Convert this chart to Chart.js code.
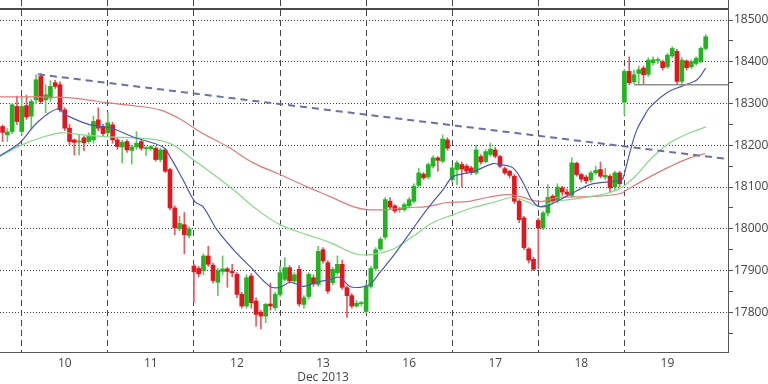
<!DOCTYPE html>
<html><head><meta charset="utf-8">
<script src="https://cdn.jsdelivr.net/npm/chart.js@4.4.0/dist/chart.umd.min.js"></script>
<style>html,body{margin:0;padding:0;background:#fff}#c{display:block}</style>
</head><body>
<canvas id="c" width="768" height="384"></canvas>
<script>
// ---- data ----
const dayLabels = ['10','11','12','13','16','17','18','19'];
const monthLabel = 'Dec 2013';
const firstCandleOfDay = [4,22,40,58,76,94,112,130];
const yTicks = [17750,17800,17850,17900,17950,18000,18050,18100,18150,18200,18250,18300,18350,18400,18450,18500];

const openP = [18245,18225,18233,18293,18233,18295,18270,18309,18365,18309,18313,18350,18345,18285,18241,18213,18208,18218,18209,18213,
18261,18245,18230,18249,18213,18196,18209,18188,18196,18209,18192,18192,18193,18166,18189,18142,18050,18000,18010,17984,
17911,17905,17900,17935,17913,17872,17898,17904,17898,17891,17843,17815,17887,17827,17800,17791,17820,17811,17843,17879,
17907,17875,17903,17819,17838,17883,17867,17950,17919,17871,17895,17915,17859,17840,17815,17821,17802,17862,17905,17952,
17980,18066,18055,18046,18046,18055,18066,18104,18131,18124,18150,18170,18162,18213,18118,18142,18154,18150,18146,18134,
18173,18161,18178,18189,18173,18144,18138,18126,18066,18026,17952,17927,18020,18002,18038,18078,18068,18098,18088,18080,
18157,18130,18124,18117,18134,18142,18124,18126,18100,18134,18303,18377,18352,18372,18385,18370,18398,18403,18400,18388,
18414,18425,18353,18402,18388,18396,18402,18432];
const highP = [18249,18240,18300,18318,18317,18320,18310,18369,18372,18345,18355,18356,18352,18290,18250,18215,18225,18222,18230,18270,
18290,18250,18278,18255,18218,18212,18213,18200,18233,18212,18197,18200,18197,18193,18192,18145,18055,18030,18039,18005,
17915,17910,17940,17958,17918,17905,17935,17908,17915,17895,17848,17890,17893,17835,17805,17822,17870,17848,17910,17931,
17912,17895,17912,17840,17895,17890,17958,17955,17924,17908,17935,17925,17862,17845,17828,17826,17868,17910,17955,17980,
18075,18075,18058,18052,18062,18075,18108,18145,18135,18158,18175,18173,18225,18218,18150,18163,18160,18155,18150,18200,
18178,18190,18205,18195,18176,18148,18140,18130,18070,18030,17955,17932,18025,18042,18106,18082,18108,18102,18095,18170,
18160,18133,18128,18138,18150,18160,18145,18130,18138,18138,18382,18412,18380,18390,18390,18410,18412,18410,18404,18420,
18436,18430,18410,18405,18404,18412,18436,18465];
const lowP = [18209,18209,18228,18250,18225,18262,18240,18300,18300,18278,18305,18336,18280,18235,18200,18177,18177,18187,18205,18205,
18235,18222,18225,18205,18190,18158,18183,18155,18190,18188,18176,18188,18162,18160,18135,18045,17986,17995,17940,17978,
17824,17885,17890,17910,17870,17840,17890,17860,17885,17835,17810,17810,17810,17767,17760,17775,17805,17805,17838,17875,
17870,17870,17815,17810,17832,17862,17862,17918,17845,17865,17890,17855,17788,17810,17812,17815,17798,17858,17900,17948,
17975,18048,18038,18040,18042,18050,18062,18100,18118,18120,18145,18138,18158,18188,18112,18105,18100,18132,18130,18130,
18155,18158,18174,18170,18146,18130,18122,18060,18015,17950,17918,17900,17905,17998,18030,18060,18062,18080,18078,18075,
18126,18112,18108,18112,18130,18122,18118,18088,18092,18100,18273,18345,18348,18345,18345,18365,18392,18396,18380,18384,
18410,18345,18345,18380,18384,18392,18398,18428];
const closeP = [18231,18232,18297,18257,18293,18268,18305,18357,18305,18321,18341,18341,18285,18241,18209,18207,18210,18206,18221,18257,
18241,18228,18254,18213,18197,18207,18189,18196,18205,18193,18194,18197,18166,18189,18138,18050,18002,18013,17986,18000,
17897,17892,17935,17915,17876,17899,17904,17898,17895,17843,17815,17883,17823,17795,17791,17819,17815,17843,17895,17907,
17875,17890,17820,17835,17891,17868,17946,17923,17851,17903,17915,17860,17840,17815,17822,17823,17863,17905,17950,17975,
18070,18052,18043,18048,18058,18070,18102,18134,18122,18154,18170,18164,18215,18193,18146,18158,18143,18138,18135,18189,
18160,18185,18191,18174,18150,18134,18128,18066,18022,17955,17925,17903,18002,18038,18075,18066,18100,18088,18083,18158,
18130,18119,18115,18134,18140,18126,18128,18098,18134,18108,18377,18350,18369,18381,18369,18404,18405,18405,18386,18416,
18432,18353,18404,18386,18400,18408,18432,18460];

const blueX = [-0.54,3.6,7.2,11.4,13.5,18.3,22.5,27.3,33.5,35,37.7,40.2,41.9,44.8,48.2,51.7,55.9,58,60.1,62.8,65.7,68.5,70.5,72.6,74.7,76.8,78.9,81.6,85.2,88.7,92.1,94.2,98.4,102.5,104,106.7,108.8,110.9,112.4,114.5,118.6,122.8,127,129.5,130.1,131.4,132.6,134.3,135.4,138.9,142.3,145.2,147];
const blueY = [18175,18206,18254,18287,18271,18249,18242,18220,18196,18173,18118,18065,18053,17998,17951,17910,17862,17860,17872,17862,17872,17879,17884,17862,17860,17867,17896,17934,17991,18046,18094,18125,18137,18156,18154,18146,18111,18065,18053,18058,18082,18106,18113,18118,18137,18194,18237,18273,18292,18326,18343,18357,18385];
const greenX = [-0.54,4,8.45,12.4,16.8,22.5,27.3,32.3,35.6,39.8,42.7,45.5,48.2,53.2,58,63.6,68.5,74.1,77.4,81.6,85.8,90,94.2,98.4,102.5,106.7,109.6,112.4,115.1,118.6,122.8,127,129.7,132.6,135.4,139.5,143.7,147.1];
const greenY = [18173,18201,18220,18230,18225,18220,18218,18213,18201,18166,18142,18118,18094,18046,18010,17986,17967,17939,17939,17951,17982,18015,18034,18051,18063,18075,18065,18053,18065,18070,18077,18087,18101,18130,18166,18206,18230,18244];
const redX = [-0.54,6.36,13.5,17.6,21.8,27.3,32.9,37.1,41.3,47,52.4,58,63.6,68.5,73.3,76.2,80.4,84.6,88.7,92.9,97.1,101.3,105.5,108.2,112.4,115.9,122.8,129.1,130.6,135.4,139.5,143.7,146.9];
const redY = [18316,18316,18314,18309,18302,18295,18285,18263,18232,18197,18158,18130,18101,18077,18053,18046,18046,18051,18053,18063,18065,18075,18082,18077,18065,18075,18077,18084,18094,18125,18149,18170,18180];
const trendX = [7.4,151.66];
const trendY = [18370,18167];
const supportX = [132,151.66];
const supportY = [18345,18345];
const frameTopValue = 18526;

// ---- build ----
const idx = openP.map((_, i) => i);
const up = idx.map(i => closeP[i] >= openP[i]);
const bodyCol = up.map(u => u ? '#20b420' : '#e3151d');
const wickCol = up.map(u => u ? '#62c862' : '#e45a60');
const dayCenters = firstCandleOfDay.map(v => v + 9);
const pts = (xs, ys) => xs.map((x, i) => ({x, y: ys[i]}));

Chart.defaults.font.family = "'Open Sans', 'Liberation Sans', sans-serif";
Chart.defaults.font.size = 12;

const frameTop = {
  id: 'frameTop',
  afterDraw(chart) {
    const {ctx, chartArea, scales} = chart;
    const py = Math.round(scales.y.getPixelForValue(frameTopValue));
    ctx.save();
    ctx.strokeStyle = '#4a4a4a';
    ctx.lineWidth = 2;
    ctx.beginPath();
    ctx.moveTo(chartArea.left, py);
    ctx.lineTo(chartArea.right, py);
    ctx.stroke();
    ctx.restore();
  }
};

new Chart(document.getElementById('c'), {
  type: 'bar',
  data: {
    datasets: [
      {type:'line', data: pts(trendX, trendY), borderColor:'#6b70a6', borderWidth:2, borderDash:[7,5], pointRadius:0, order:0},
      {type:'line', data: pts(supportX, supportY), borderColor:'#8c8c8c', borderWidth:1.5, pointRadius:0, order:0},
      {type:'line', data: pts(blueX, blueY), borderColor:'#4b57b5', borderWidth:1.2, pointRadius:0, tension:0.35, order:0},
      {type:'line', data: pts(greenX, greenY), borderColor:'#86d886', borderWidth:1.2, pointRadius:0, tension:0.35, order:0},
      {type:'line', data: pts(redX, redY), borderColor:'#e07b7b', borderWidth:1.2, pointRadius:0, tension:0.35, order:0},
      {data: idx.map(i => ({x:i, y:[openP[i], closeP[i]]})), backgroundColor: bodyCol, barThickness:4, grouped:false, minBarLength:1, order:1},
      {data: idx.map(i => ({x:i, y:[lowP[i], highP[i]]})), backgroundColor: wickCol, barThickness:1, grouped:false, order:2}
    ]
  },
  options: {
    responsive:false, animation:false, devicePixelRatio:1,
    layout:{padding:0},
    plugins:{legend:{display:false}, tooltip:{enabled:false}},
    scales:{
      x:{
        type:'linear', min:-0.54, max:151.66, offset:false,
        afterBuildTicks: s => { s.ticks = [...firstCandleOfDay, ...dayCenters].sort((a,b)=>a-b).map(v => ({value:v})); },
        afterFit: s => { s.height = 32; s.paddingLeft = 0; s.paddingRight = 0; },
        ticks:{
          autoSkip:false, maxRotation:0, minRotation:0, padding:4, color:'#444',
          callback: v => { const i = dayCenters.indexOf(v); if (i < 0) return ''; return i === 3 ? [dayLabels[i], monthLabel] : dayLabels[i]; }
        },
        grid:{
          offset:false, drawTicks:false, lineWidth:1,
          color: c => (c.tick && firstCandleOfDay.includes(c.tick.value)) ? '#444' : 'rgba(0,0,0,0)'
        },
        border:{display:true, color:'#555', width:1, dash:[6,4]}
      },
      y:{
        type:'linear', position:'right', min:17705, max:18548, beginAtZero:false,
        afterBuildTicks: s => { s.ticks = yTicks.map(v => ({value:v})); },
        afterFit: s => { s.width = 40; s.paddingTop = 0; s.paddingBottom = 0; },
        ticks:{ padding:1, color:'#444', callback: v => (v % 100 === 0 ? String(v) : '') },
        grid:{
          lineWidth:1, tickLength:5, tickColor:'#555',
          color: c => (c.tick && c.tick.value % 100 === 0) ? '#3a3a3a' : 'rgba(0,0,0,0)'
        },
        border:{display:true, color:'#555', width:1, dash:[1,2]}
      }
    }
  },
  plugins:[frameTop]
});
</script>
</body></html>
